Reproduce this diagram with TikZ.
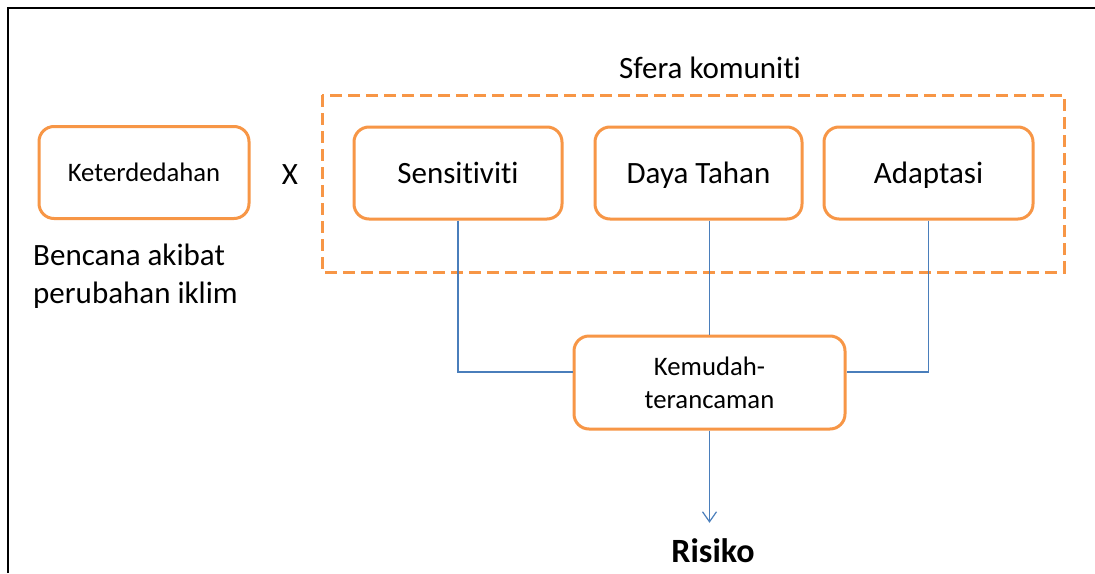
\documentclass[tikz,border=0pt]{standalone}
\usepackage{fontspec}
\setmainfont{Carlito}[Ligatures={NoCommon,NoRequired,NoContextual}]
\usetikzlibrary{arrows.meta}
\definecolor{acc}{HTML}{F79646}
\definecolor{lnk}{HTML}{4A7EBB}
\newcommand\fbig{\fontsize{31}{38}\selectfont}
\newcommand\fmid{\fontsize{26.7}{33}\selectfont}
\tikzset{
  boxstyle/.style={draw=acc, line width=3pt, rounded corners=15pt, fill=white,
    minimum height=92pt, inner sep=0pt, text depth=0pt},
  bigtxt/.style={font=\fbig, text height=20pt},
  midtxt/.style={font=\fmid, text height=17.2pt},
  conn/.style={draw=lnk, line width=1.2pt},
  lbl/.style={inner sep=0pt, text=black},
}
\begin{document}
\begin{tikzpicture}[x=1pt,y=-1pt]
\useasboundingbox (0,0) rectangle (1095,573);
\fill[white] (0,0) rectangle (1095,573);
% frame
\draw[line width=2.5pt, black] (8,573) -- (8,8) -- (1095,8);
% community sphere
\draw[acc, line width=3pt, dash pattern=on 12pt off 6pt] (322,95) rectangle (1064,272);
\node[lbl, font=\fbig, anchor=base] (sfera) at (710,78) {Sfera komuniti};
% boxes
\node[boxstyle, midtxt, minimum width=210pt] (ket) at (144,172.5) {Keterdedahan};
\node[lbl, bigtxt, text depth=0pt] (x) at (290,174) {X};
\node[boxstyle, bigtxt, minimum width=208pt] (sen) at (458,173) {Sensitiviti};
\node[boxstyle, bigtxt, minimum width=207pt] (dt) at (698.5,173) {Daya Tahan};
\node[boxstyle, bigtxt, minimum width=209pt] (ada) at (928.5,173) {Adaptasi};
\node[lbl, font=\fbig, anchor=base west] (ben1) at (33,265) {Bencana akibat};
\node[lbl, font=\fbig, anchor=base west] (ben2) at (33,303) {perubahan iklim};
\node[draw=acc, line width=3pt, rounded corners=15pt, fill=white,
  minimum width=271pt, minimum height=93pt, inner sep=0pt, align=center,
  font=\fmid] (kem) at (709.5,382.5) {Kemudah-\\terancaman};
\node[lbl, font=\fontsize{34}{41}\selectfont\bfseries, anchor=base,
  text height=22pt, text depth=0pt, inner ysep=17pt] (ris) at (713,562) {Risiko};
% connectors
\coordinate (ly) at (0,372);
\draw[conn] (sen.south) |- (kem.west |- ly);
\draw[conn] (ada.south) |- (kem.east |- ly);
\draw[conn] (kem.north) -- (kem.north |- dt.south);
\draw[conn, -{Straight Barb[length=10pt,width=14pt]}] (kem.south) -- (kem.south |- ris.north);
\end{tikzpicture}
\end{document}
